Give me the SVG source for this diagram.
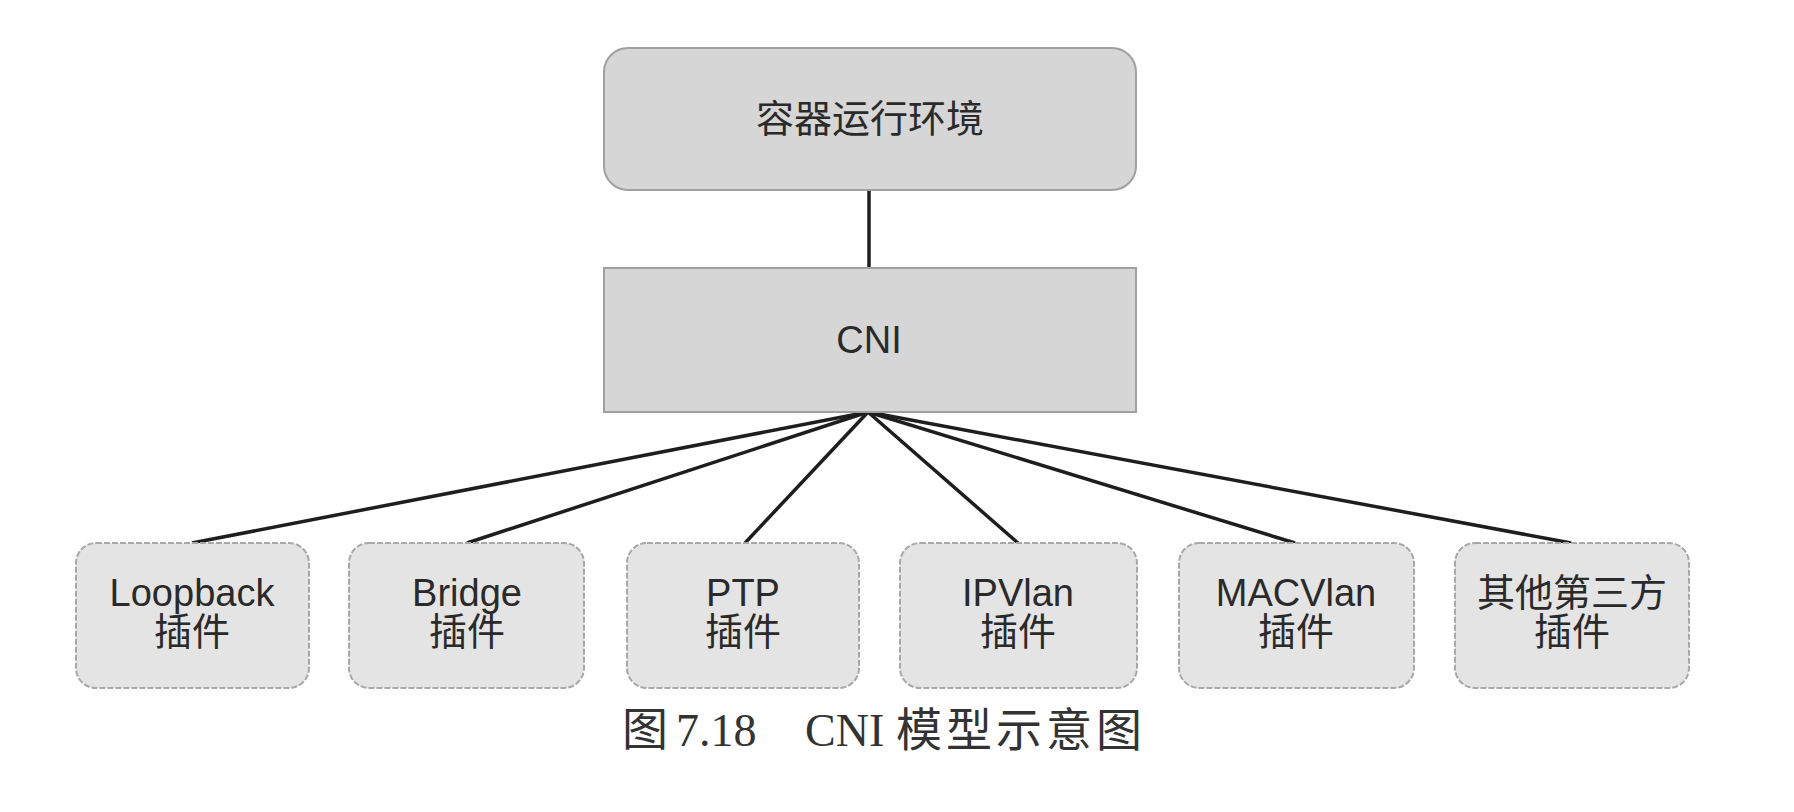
<svg xmlns="http://www.w3.org/2000/svg" width="1794" height="812" viewBox="0 0 1794 812">
<style>
.top{fill:#d6d6d6;stroke:#a0a0a0;stroke-width:2}
.leaf{fill:#e4e4e4;stroke:#a8a8a8;stroke-width:2;stroke-dasharray:6 2}
.lbl{font-family:"Liberation Sans","Noto Sans CJK SC",sans-serif;font-size:38px;fill:#2a2a2a;text-anchor:middle}
.cap{font-family:"Liberation Serif","Noto Sans CJK SC",serif;font-size:46px;fill:#333}
.edge{stroke:#1e1e1e;stroke-width:3.5;fill:none}
</style>
<rect width="1794" height="812" fill="#ffffff"/>
<g id="connectors">
<line class="edge" x1="869" y1="190" x2="869" y2="268"/>
<line class="edge" x1="868" y1="412" x2="192" y2="543"/>
<line class="edge" x1="868" y1="412" x2="467" y2="543"/>
<line class="edge" x1="868" y1="412" x2="745" y2="543"/>
<line class="edge" x1="868" y1="412" x2="1018" y2="543"/>
<line class="edge" x1="868" y1="412" x2="1295" y2="543"/>
<line class="edge" x1="868" y1="412" x2="1571" y2="543"/>
</g>
<g id="runtime">
<rect class="top" x="604" y="48" width="532" height="142" rx="24"/>
<text class="lbl" x="870" y="132">容器运行环境</text>
</g>
<g id="cni">
<rect class="top" x="604" y="268" width="532" height="144"/>
<text class="lbl" x="869" y="353">CNI</text>
</g>
<g id="loopback">
<rect class="leaf" x="76" y="543" width="233" height="145" rx="20"/>
<text class="lbl" x="192" y="606">Loopback</text>
<text class="lbl" x="192" y="645">插件</text>
</g>
<g id="bridge">
<rect class="leaf" x="349" y="543" width="235" height="145" rx="20"/>
<text class="lbl" x="467" y="606">Bridge</text>
<text class="lbl" x="467" y="645">插件</text>
</g>
<g id="ptp">
<rect class="leaf" x="627" y="543" width="232" height="145" rx="20"/>
<text class="lbl" x="743" y="606">PTP</text>
<text class="lbl" x="743" y="645">插件</text>
</g>
<g id="ipvlan">
<rect class="leaf" x="900" y="543" width="237" height="145" rx="20"/>
<text class="lbl" x="1018" y="606">IPVlan</text>
<text class="lbl" x="1018" y="645">插件</text>
</g>
<g id="macvlan">
<rect class="leaf" x="1179" y="543" width="235" height="145" rx="20"/>
<text class="lbl" x="1296" y="606">MACVlan</text>
<text class="lbl" x="1296" y="645">插件</text>
</g>
<g id="thirdparty">
<rect class="leaf" x="1455" y="543" width="234" height="145" rx="20"/>
<text class="lbl" x="1572" y="606">其他第三方</text>
<text class="lbl" x="1572" y="645">插件</text>
</g>
<g id="caption">
<text class="cap" x="622" y="745" font-size="38">图</text>
<text class="cap" x="676" y="746">7.18</text>
<text class="cap" x="805" y="746" font-size="40">CNI</text>
<text class="cap" x="896" y="746" letter-spacing="4">模型示意图</text>
</g>
</svg>
